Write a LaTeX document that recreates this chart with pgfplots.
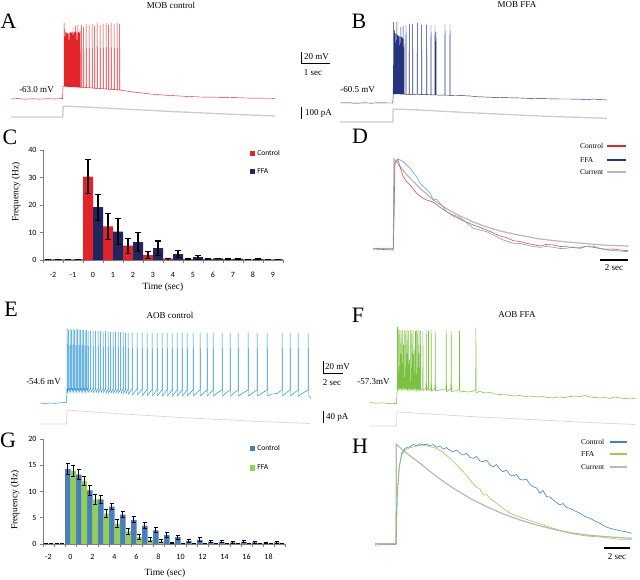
\documentclass[border=0pt]{standalone}
\usepackage{pgfplots}
\pgfplotsset{compat=1.18}
\usepackage{fontspec}
\setmainfont{Liberation Serif}
\newfontfamily\carlito{Carlito}
\definecolor{tRed}{HTML}{E3262B}
\definecolor{tNavy}{HTML}{26337F}
\definecolor{cur}{HTML}{CFCCC4}
\definecolor{curL}{HTML}{DAD7D0}
\definecolor{cRed}{HTML}{E42329}
\definecolor{cNavy}{HTML}{1F2761}
\definecolor{dRed}{HTML}{DD4B4B}
\definecolor{dBlue}{HTML}{6E9FD6}
\definecolor{dGray}{HTML}{B8B8B8}
\definecolor{eBlue}{HTML}{1E8CD0}
\definecolor{fGreen}{HTML}{7CC242}
\definecolor{gBlue}{HTML}{4A7EBB}
\definecolor{gGreen}{HTML}{92D050}
\definecolor{hBlue}{HTML}{3F7FCB}
\definecolor{hGreen}{HTML}{9CCD4F}
\definecolor{axgray}{HTML}{7F7F7F}
\pgfplotsset{sqlegend/.style={legend image code/.code={\fill[##1] (0pt,-2.6pt) rectangle (5.2pt,2.6pt);}},
  ov/.style={at={(320pt,290pt)},anchor=center,scale only axis,width=640pt,height=580pt,
  xmin=0,xmax=640,ymin=0,ymax=580,y dir=reverse,hide axis,clip=false}}
\begin{document}
\begin{tikzpicture}
\path[use as bounding box] (0,0) rectangle (640pt,580pt);
\begin{axis}[ov]
% ---------- A ----------
\addplot[cur,line width=1.3pt] coordinates {(11,117)(62.8,117)(63.2,106)(80,106.8)(100,107.8)(125,109.1)(150,110.4)(175,111.7)(200,112.8)(225,114)(250,115)(275,116)};
\addplot[tRed,line width=0.45pt] coordinates {
(11,99)(18,98.6)(25,99.2)(32,98.8)(40,99.1)(48,98.7)(55,98.9)(62.6,98.6)
(63,87)(64,86.5)(64.2,23)(64.4,86.5)
(64.8,86.5)(65,29)(65.2,86.5)
(65.6,86.5)(65.8,32)(66,86.5)
(66.4,86.5)(66.6,33)(66.8,86.6)
(67.2,86.6)(67.4,33)(67.6,86.6)
(68,86.6)(68.2,34)(68.4,86.7)
(68.8,86.7)(69,33)(69.2,86.7)
(69.6,86.7)(69.8,33)(70,86.8)
(70.4,86.8)(70.6,32)(70.8,86.8)
(71.2,86.8)(71.4,33)(71.6,86.9)
(72,86.9)(72.2,32)(72.4,86.9)
(72.8,86.9)(73,27)(73.2,87)
(73.6,87)(73.8,33)(74,87)
(74.4,87)(74.6,32)(74.8,87)
(75.2,87)(75.4,26)(75.6,87.1)
(76,87.1)(76.2,32)(76.4,87.1)
(76.8,87.1)(77,33)(77.2,87.1)
(77.6,87.2)(77.8,25)(78,87.2)
(78.4,87.2)(78.6,32)(78.8,87.2)
(79.2,87.3)(79.4,33)(79.6,87.3)
(80,87.3)(80.2,31)(80.4,87.3)
(81.5,87.4)(81.7,25)(81.9,87.4)
(83.5,87.5)(83.7,27)(83.9,87.5)
(86,87.6)(86.2,24)(86.4,87.7)
(89,87.8)(89.2,25)(89.4,87.9)
(92,88)(92.2,24)(92.4,88.1)
(94.5,88.2)(94.7,26)(94.9,88.3)
(97,88.4)(97.2,23)(97.4,88.5)
(100,88.6)(100.2,25)(100.4,88.7)
(103,88.8)(103.2,24)(103.4,88.9)
(106,89)(106.2,23)(106.4,89.1)
(108.5,89.2)(108.7,25)(108.9,89.3)
(111,89.4)(111.2,23)(111.4,89.5)
(114,89.6)(114.2,24)(114.4,89.7)
(117,89.8)(117.2,23)(117.4,89.9)
(119.5,90)(119.7,24)(119.9,90.1)
(125,90.8)(133,92)(142,93)(150,94)(160,94.8)(170,95.5)(185,96.3)(200,97)(215,97.2)(230,97.5)(245,98)(260,98.2)(275,98.3)};
% ---------- B ----------
\addplot[cur,line width=1.3pt] coordinates {(340,122)(392.8,122)(393.2,109)(420,110)(450,111.7)(480,113.2)(510,114.6)(540,116)(570,117.1)(607,118.3)};
\addplot[tNavy,line width=0.45pt] coordinates {
(340,103)(348,102.8)(356,103.2)(364,102.9)(372,103.1)(380,102.8)(388,103)(392.8,103)
(393.2,95)(393.4,22)(393.6,94)
(394.2,94)(394.4,30)(394.6,94)
(395,94)(395.2,33)(395.4,94)
(395.8,94)(396,34)(396.2,94)
(396.6,94)(396.8,22)(397,94)
(397.4,94)(397.6,35)(397.8,94)
(398.2,94)(398.4,36)(398.6,94)
(399,94)(399.2,36)(399.4,94)
(399.8,94)(400,37)(400.2,94)
(400.6,94.1)(400.8,27)(401,94.1)
(401.4,94.1)(401.6,37)(401.8,94.1)
(402.2,94.1)(402.4,38)(402.6,94.1)
(403,94.2)(403.2,26)(403.4,94.2)
(403.8,94.2)(404,39)(404.2,94.2)
(405.8,94.2)(406,25)(406.2,94.3)
(409.1,94.3)(409.3,24)(409.5,94.3)
(412.5,94.4)(412.7,24)(412.9,94.4)
(417.1,94.5)(417.3,23)(417.5,94.5)
(421.5,94.6)(421.7,25)(421.9,94.6)
(426.5,94.7)(426.7,25)(426.9,94.7)
(430.8,94.8)(431,25)(431.2,94.8)
(434.8,94.9)(435,25)(435.2,94.9)(435.8,94.9)(436,32)(436.2,95)
(444.8,95.2)(445,24)(445.2,95.2)
(449.8,95.3)(450,24)(450.2,95.4)
(455,95.5)(462,95.6)(470,96)(478,96.8)(485,97)(492,97.3)(500,97.5)(510,97.8)(520,98)(530,98.4)(540,98.6)(550,98.8)(560,99)(570,99)(580,99.2)(588,99.6)(593,99)(600,99.6)(607,100)};
% ---------- D ----------
\addplot[dGray,line width=1.2pt] coordinates {(373,248.5)(393.5,248.5)(394,159)(406.7,174.7)(420,188.3)(433.3,200)(446.7,208.7)(460,216)(473.3,222)(486.7,227)(500,231)(520,235.3)(540,239)(560,241.3)(586.7,243.7)(606.7,245.3)(628.3,246)};
\addplot[dRed,line width=0.6pt] coordinates {(373.3,249)(383,249.5)(392.7,250)(393.3,249)(395,163.3)(397.7,159)(400,166.7)(403.3,176.7)(406.7,181.7)(410,185)(413.3,189.3)(416.7,193.3)(420,196)(423.3,198.3)(426.7,200)(430,201)(435,203.3)(440,207.3)(446.7,211.7)(453.3,216)(463.3,220.7)(473.3,225)(486.7,230)(500,236)(506,237.5)(513.3,240.7)(520,241.5)(526.7,243.3)(533,244.5)(540,246)(546,244.5)(553.3,245)(560,246.5)(566.7,246.7)(573,247.5)(580,248.3)(586,246.5)(593.3,247.3)(600,248.5)(606.7,249.3)(613,249)(620,250)(628.3,250.7)};
\addplot[dBlue,line width=0.6pt] coordinates {(373.3,248.3)(383,248.8)(393.3,249)(394.3,163.3)(398.3,159)(403.3,161.7)(410,168.3)(416.7,176.7)(420,183.3)(423.3,186.7)(426.7,189.3)(430,193)(433.3,200)(436.5,199)(440,203.3)(446.7,211.7)(453.3,215)(458,216.5)(463.3,220)(468,224)(473.3,228.3)(480,230)(486.7,231.7)(493.3,235)(503.3,240)(513.3,243.3)(520,243.5)(526.7,245)(533,246.5)(540,247.3)(546,246.5)(553.3,247.3)(560,248.5)(566.7,248.3)(573,247)(580,247.3)(586,246.5)(593.3,246)(600,248.5)(606.7,250)(613,250.5)(620,251)(628.3,251.7)};
\addplot[tRed,line width=1.1pt] coordinates {(607,146)(626,146)};
\addplot[tNavy,line width=1.1pt] coordinates {(607,160)(626,160)};
\addplot[dGray,line width=1.1pt] coordinates {(607,172)(626,172)};
\addplot[black,line width=1.1pt] coordinates {(600,260)(628,260)};
% ---------- E ----------
\addplot[curL,line width=0.7pt] coordinates {(40,424)(66.5,424)(67,410)(100,412.5)(140,415)(180,417.5)(220,419.5)(260,421.5)(310,423.5)};
\addplot[eBlue,line width=0.45pt] coordinates {
(40,403)(45,403.5)(50,403)(55,403.4)(60,402.8)(66.5,402.6)
(67,388)(67.2,328)(67.5,392)
(68.5,388)(68.7,330)(69,392)
(70,388)(70.2,329)(70.5,392)
(71.5,388)(71.7,330)(72,392)
(73,388)(73.2,329)(73.5,392)
(74.5,388)(74.7,330)(75,392)
(76,388)(76.2,330)(76.5,392)
(77.5,388)(77.7,329)(78,392)
(79,388)(79.2,330)(79.5,392)
(80.5,388)(80.7,330)(81,392)
(82,388)(82.2,330)(82.5,392)
(83.5,388)(83.7,330)(84,392)
(85,388)(85.2,331)(85.5,392)
(86.5,388)(86.7,330)(87,392)
(88,388)(88.2,331)(88.5,392)
(90.5,388.5)(90.7,331)(91,392.5)
(93,388.5)(93.2,331)(93.5,392.5)
(95.5,388.5)(95.7,331)(96,392.5)
(98,388.5)(98.2,331)(98.5,392.5)
(100.5,388.5)(100.7,331)(101,392.5)
(103,388.5)(103.2,332)(103.5,392.5)
(105.5,388.5)(105.7,331)(106,393)
(108,389)(108.2,332)(108.5,393)
(110.5,389)(110.7,332)(111,393)
(113,389)(113.2,332)(113.5,393)
(115.5,389)(115.7,332)(116,393)
(118,389)(118.2,332)(118.5,393)
(120.5,389)(120.7,332)(121,393.5)
(123,389)(123.2,332)(123.5,393.5)
(125.5,389)(125.7,333)(126,393.5)
(128,389)(128.2,333)(128.5,394)
(132,389)(132.2,333)(132.5,395)
(137,389)(137.2,333)(137.5,395)
(142,389)(142.2,333)(142.5,395.5)
(147,389.5)(147.2,333)(147.5,395.5)
(152,389.5)(152.2,333)(152.5,396)
(157,389.5)(157.2,333)(157.5,396)
(162,389.5)(162.2,333)(162.5,396)
(167,389.5)(167.2,333)(167.5,396)
(172,390)(172.2,333)(172.5,396)
(177,390)(177.2,333)(177.5,396)
(182,390)(182.2,333)(182.5,396)
(187,390)(187.2,333)(187.5,396)
(190,393)(193,390)(193.2,333)(193.5,396)
(196.5,393)(200,390)(200.2,333)(200.5,396)
(203.5,393)(207,390)(207.2,333)(207.5,396)
(210,393)(213,390)(213.2,333)(213.5,396)
(217,393)(222,390)(222.2,333)(222.5,396)
(226,393)(230,390)(230.2,333)(230.5,396)
(234,393)(238,390)(238.2,333)(238.5,396)
(243,393)(248,390)(248.2,333)(248.5,396)
(252.5,393)(257,390)(257.2,333)(257.5,396)
(262,393)(267,390)(267.2,333)(267.5,396)
(272,394)(277,393.5)(282,390)(282.2,333)(282.5,396)
(286,393)(290,390)(290.2,333)(290.5,396)
(294,393)(298,390)(298.2,333)(298.5,396)
(303,393)(308,390)(308.2,333)(308.5,396)
(310,396.5)(310.4,399)};
% ---------- F ----------
\addplot[curL,line width=0.7pt] coordinates {(370,426)(396.5,426)(397,412)(430,414)(470,416.5)(510,418.5)(550,420.5)(590,422.5)(635,424.5)};
\addplot[fGreen,line width=0.55pt] coordinates {
(370,402.5)(376,403.2)(382,402.8)(388,403.4)(396.5,403.5)
(397.3,386)(397.5,327)(397.8,389)
(398.5,386.5)(398.7,330)(399,389)
(399.7,386.5)(399.9,329)(400.2,389)
(400.9,386.5)(401.1,331)(401.4,389)
(402.1,386.5)(402.3,330)(402.6,389)
(403.3,386.5)(403.5,345)(403.8,389)
(404.5,386.5)(404.7,330)(405,389)
(405.7,387)(405.9,331)(406.2,389.5)
(406.9,387)(407.1,330)(407.4,389.5)
(408.1,387)(408.3,331)(408.6,389.5)
(409.3,387)(409.5,360)(409.8,389.5)
(410.5,387)(410.7,330)(411,389.5)
(411.7,387)(411.9,331)(412.2,389.5)
(412.9,387)(413.1,330)(413.4,389.5)
(414.1,387)(414.3,350)(414.6,389.5)
(415.3,387.5)(415.5,331)(415.8,390)
(416.5,387.5)(416.7,330)(417,390)
(417.7,387.5)(417.9,331)(418.2,390)
(418.9,387.5)(419.1,330)(419.4,390)
(420.2,387.5)(420.4,331)(420.7,390)
(422.7,388)(422.9,331)(423.2,390.5)
(426,388)(426.2,330)(426.5,390.5)
(428.3,388)(428.5,331)(428.8,390.5)
(431,388.5)(431.2,330)(431.5,391)
(435,388.5)(435.2,331)(435.5,391)
(440,390)(446,389)(446.2,330)(446.5,391.5)
(451,389)(451.2,331)(451.5,391.5)
(455,391)(459.3,389.5)(459.5,331)(459.8,392)
(464,391.5)(468,392)(472,391.5)(475.7,390)(475.9,328)(476.2,392.5)
(480,391.5)(485,393)(490,392.5)(495,394)(500,394.5)(505,394)(510,395.5)(515,396)(520,395.5)(525,396.5)(530,396)(537,397)(542,396.5)(548,397.5)(553,398)(558,397)(565,397.5)(570,396.5)(575,396)(580,396.5)(585,395.5)(590,397)(595,397.5)(600,398)(605,397.5)(610,398.5)(615,397)(620,398)(625,398.5)(630,398)(635,398.5)};
% ---------- H ----------
\addplot[dGray,line width=1.2pt] coordinates {(375,543.5)(396,543.5)(396.3,444.3)(406.7,453.3)(420,463.3)(436.7,476.7)(453.3,488.3)(470,498.3)(486.7,506.7)(503.3,514)(520,520)(536.7,525)(553.3,529.3)(570,532.7)(586.7,535)(606.7,536.7)(631.7,538.3)};
\addplot[hBlue,line width=0.6pt] coordinates {(375,545)(385,544.5)(396,544.3)(397.3,493.3)(399.3,466.7)(401.7,453.3)(405,448.3)(410,446.7)(413,444.5)(416.7,445.7)(420,443.8)(423.3,445)(426.5,444)(430,446)(433,444.5)(436.7,447.3)(440,446)(443.3,449.3)(446.5,447.5)(450,450.5)(453.3,451.7)(456.5,450)(460,453.5)(463.3,455)(466.5,453.2)(470,457.5)(473.3,458.3)(476.5,456.5)(480,461)(483.3,461.7)(486.5,460)(490,465)(493.3,466.7)(496.5,464.5)(500,469.5)(503.3,471.7)(506.5,470)(510,475)(513.3,476)(516.5,474.5)(520,479.5)(523.3,480)(526.5,479)(530,484.5)(533.3,486.7)(536.5,488)(540,493.3)(543,490.5)(546.7,496.7)(550,497)(553.3,500)(556.5,502.5)(560,505)(563,503.5)(566.5,507.5)(570,508.3)(575,511)(580,513.3)(585,516.5)(590,518.3)(595,521)(600,523.3)(605,526.5)(610,528.3)(615,529.5)(620,530.7)(625,531.5)(631.7,533.3)};
\addplot[hGreen,line width=0.6pt] coordinates {(375,544)(385,544.5)(396,544)(397.3,493.3)(399.3,466.7)(401.7,455)(405,450)(410,447.7)(416.7,446)(423.3,445)(430,446.7)(436.7,448.3)(443.3,452.7)(450,458.3)(456.7,465)(463.3,471.7)(470,480)(476.7,487.3)(480,489)(483.3,495)(486.5,494.5)(490,498.3)(496.7,503.3)(503.3,508.3)(510,513.3)(516.7,516)(523.3,518.3)(533.3,521.7)(543.3,525)(553.3,528.3)(563.3,531.7)(573.3,534)(586.7,536)(603.3,537.3)(620,539.3)(631.7,539.3)};
\addplot[hBlue,line width=1.1pt] coordinates {(610,442)(627,442)};
\addplot[hGreen,line width=1.1pt] coordinates {(610,454)(627,454)};
\addplot[dGray,line width=1.1pt] coordinates {(610,467)(627,467)};
\addplot[black,line width=1.1pt] coordinates {(604,548)(630,548)};
% ---------- scale bars ----------
\addplot[black,line width=0.6pt] coordinates {(301,52)(301,63)(330,63)};
\addplot[black,line width=0.9pt] coordinates {(301,107)(301,119)};
\addplot[black,line width=0.6pt] coordinates {(323,361)(323,373)(343,373)};
\addplot[black,line width=0.9pt] coordinates {(323,411)(323,423)};
% ---------- texts ----------
\begin{scope}[every node/.style={inner sep=0pt,font=\fontsize{9}{10}\selectfont}]
\node at (171,5) {MOB control};
\node at (517,5) {MOB FFA};
\node at (170,315) {AOB control};
\node at (517,315) {AOB FFA};
\node at (36.5,90) {-63.0 mV};
\node at (357.5,90) {-60.5 mV};
\node at (43.5,382) {-54.6 mV};
\node at (373.5,382) {-57.3mV};
\node[anchor=west] at (304,57) {20 mV};
\node at (313,73) {1 sec};
\node[anchor=west] at (305,113) {100 pA};
\node[anchor=west] at (325,367) {20 mV};
\node at (332,383) {2 sec};
\node[anchor=west] at (326,417) {40 pA};
\node at (614,268) {2 sec};
\node at (617,557) {2 sec};
\node[font=\fontsize{9.5}{10}\selectfont,rotate=90] at (16,192) {Frequency (Hz)};
\node[font=\fontsize{9.5}{10}\selectfont] at (163,287) {Time (sec)};
\node[font=\fontsize{9.5}{10}\selectfont,rotate=90] at (15,500) {Frequency (Hz)};
\node[font=\fontsize{9.5}{10}\selectfont] at (165,573) {Time (sec)};
\node[anchor=west,font=\fontsize{7.5}{8}\selectfont] at (580,146) {Control};
\node[anchor=west,font=\fontsize{7.5}{8}\selectfont] at (580,160) {FFA};
\node[anchor=west,font=\fontsize{7.5}{8}\selectfont] at (580,172) {Current};
\node[anchor=west,font=\fontsize{7.5}{8}\selectfont] at (581,442) {Control};
\node[anchor=west,font=\fontsize{7.5}{8}\selectfont] at (581,454) {FFA};
\node[anchor=west,font=\fontsize{7.5}{8}\selectfont] at (581,467) {Current};
\end{scope}
\begin{scope}[every node/.style={inner sep=0pt,font=\fontsize{22}{22}\selectfont}]
\node at (8.5,21.5) {A};
\node at (359,21) {B};
\node at (10,137) {C};
\node at (360,136) {D};
\node at (11,309) {E};
\node at (358,315) {F};
\node at (8,440) {G};
\node at (360,446) {H};
\end{scope}
\end{axis}
% ---------- C bar chart ----------
\begin{axis}[at={(163pt,375pt)},anchor=center,scale only axis,width=240pt,height=110pt,
  xmin=-2.5,xmax=9.5,ymin=0,ymax=40,
  axis x line=bottom,axis y line=left,
  axis line style={-,draw=axgray,line width=0.7pt},
  ybar=0pt,bar width=10pt,
  ytick={0,10,20,30,40},
  xtick={-2.5,-1.5,...,9.5},xticklabels={},
  extra x ticks={-2,-1,...,9},
  extra x tick style={major tick length=0pt,xticklabel style={yshift=-9pt}},
  tick align=outside,major tick length=3pt,
  tick style={draw=axgray,line width=0.7pt},
  tick label style={font=\carlito\fontsize{8}{9}\selectfont,text=black},
  /pgf/number format/assume math mode=true,
  legend style={at={(0.8625,1.02)},anchor=north west,draw=none,fill=none,
     font=\carlito\fontsize{7.5}{9}\selectfont,row sep=8pt,inner sep=0pt},
  legend cell align=left]
\addplot[fill=cRed,draw=none,sqlegend,
  error bars/.cd,y dir=both,y explicit,error bar style={black,line width=1.1pt},
  error mark options={rotate=90,black,line width=1.1pt,mark size=2.7pt}]
 coordinates {(-2,0.2)+-(0,0.05)(-1,0.2)+-(0,0.05)(0,30.3)+-(0,6.1)(1,12.2)+-(0,4.8)(2,5.2)+-(0,2.7)(3,1.8)+-(0,1.4)(4,0.5)+-(0,0.1)(5,0.4)+-(0,0.1)(6,0.3)+-(0,0.05)(7,0.3)+-(0,0.05)(8,0.2)+-(0,0.05)(9,0.2)+-(0,0.05)};
\addlegendentry{Control}
\addplot[fill=cNavy,draw=none,sqlegend,
  error bars/.cd,y dir=both,y explicit,error bar style={black,line width=1.1pt},
  error mark options={rotate=90,black,line width=1.1pt,mark size=2.7pt}]
 coordinates {(-2,0.2)+-(0,0.05)(-1,0.2)+-(0,0.05)(0,19.2)+-(0,4.7)(1,10.3)+-(0,4.7)(2,6.5)+-(0,3.4)(3,4.3)+-(0,2.6)(4,2.1)+-(0,1.3)(5,1.0)+-(0,0.7)(6,0.6)+-(0,0.1)(7,0.4)+-(0,0.05)(8,0.3)+-(0,0.05)(9,0.2)+-(0,0.05)};
\addlegendentry{FFA}
\end{axis}
% ---------- G bar chart ----------
\begin{axis}[at={(164pt,88.5pt)},anchor=center,scale only axis,width=242pt,height=105pt,
  xmin=-2.5,xmax=19.5,ymin=0,ymax=20,
  axis x line=bottom,axis y line=left,
  axis line style={-,draw=axgray,line width=0.7pt},
  ybar=0pt,bar width=5.5pt,
  ytick={0,5,10,15,20},
  xtick={-2.5,-1.5,...,19.5},xticklabels={},
  extra x ticks={-2,0,...,18},
  extra x tick style={major tick length=0pt,xticklabel style={yshift=-7pt}},
  tick align=outside,major tick length=3pt,
  tick style={draw=axgray,line width=0.7pt},
  tick label style={font=\carlito\fontsize{8}{9}\selectfont,text=black},
  /pgf/number format/assume math mode=true,
  legend style={at={(0.855,0.962)},anchor=north west,draw=none,fill=none,
     font=\carlito\fontsize{7.5}{9}\selectfont,row sep=9pt,inner sep=0pt},
  legend cell align=left]
\addplot[fill=gBlue,draw=none,sqlegend,
  error bars/.cd,y dir=both,y explicit,error bar style={black,line width=1pt},
  error mark options={rotate=90,black,line width=1pt,mark size=2.2pt}]
 coordinates {(-2,0)+-(0,0)(-1,0)+-(0,0)(0,14.3)+-(0,1.0)(1,13.2)+-(0,1.0)(2,10.2)+-(0,1.0)(3,8.5)+-(0,0.8)(4,7.1)+-(0,0.6)(5,5.6)+-(0,0.6)(6,4.6)+-(0,0.6)(7,3.5)+-(0,0.5)(8,2.6)+-(0,0.5)(9,1.7)+-(0,0.5)(10,1.3)+-(0,0.4)(11,0.6)+-(0,0.3)(12,0.8)+-(0,0.4)(13,0.4)+-(0,0.2)(14,0.4)+-(0,0.2)(15,0.3)+-(0,0.15)(16,0.4)+-(0,0.2)(17,0.3)+-(0,0.2)(18,0.1)+-(0,0.1)(19,0.3)+-(0,0.15)};
\addlegendentry{Control}
\addplot[fill=gGreen,draw=none,sqlegend,
  error bars/.cd,y dir=both,y explicit,error bar style={black,line width=1pt},
  error mark options={rotate=90,black,line width=1pt,mark size=2.2pt}]
 coordinates {(-2,0)+-(0,0)(-1,0)+-(0,0)(0,13.9)+-(0,1.1)(1,12.0)+-(0,0.8)(2,8.5)+-(0,0.9)(3,5.8)+-(0,0.8)(4,3.9)+-(0,0.8)(5,2.4)+-(0,0.6)(6,1.3)+-(0,0.5)(7,0.8)+-(0,0.4)(8,0.5)+-(0,0.3)(9,0.2)+-(0,0.1)(10,0.1)+-(0,0.05)(11,0.05)+-(0,0.05)(12,0.05)+-(0,0.05)(13,0.05)+-(0,0.05)(14,0.05)+-(0,0.05)(15,0.05)+-(0,0.05)(16,0.05)+-(0,0.05)(17,0.05)+-(0,0.05)(18,0.05)+-(0,0.05)(19,0.05)+-(0,0.05)};
\addlegendentry{FFA}
\end{axis}
\end{tikzpicture}
\end{document}
